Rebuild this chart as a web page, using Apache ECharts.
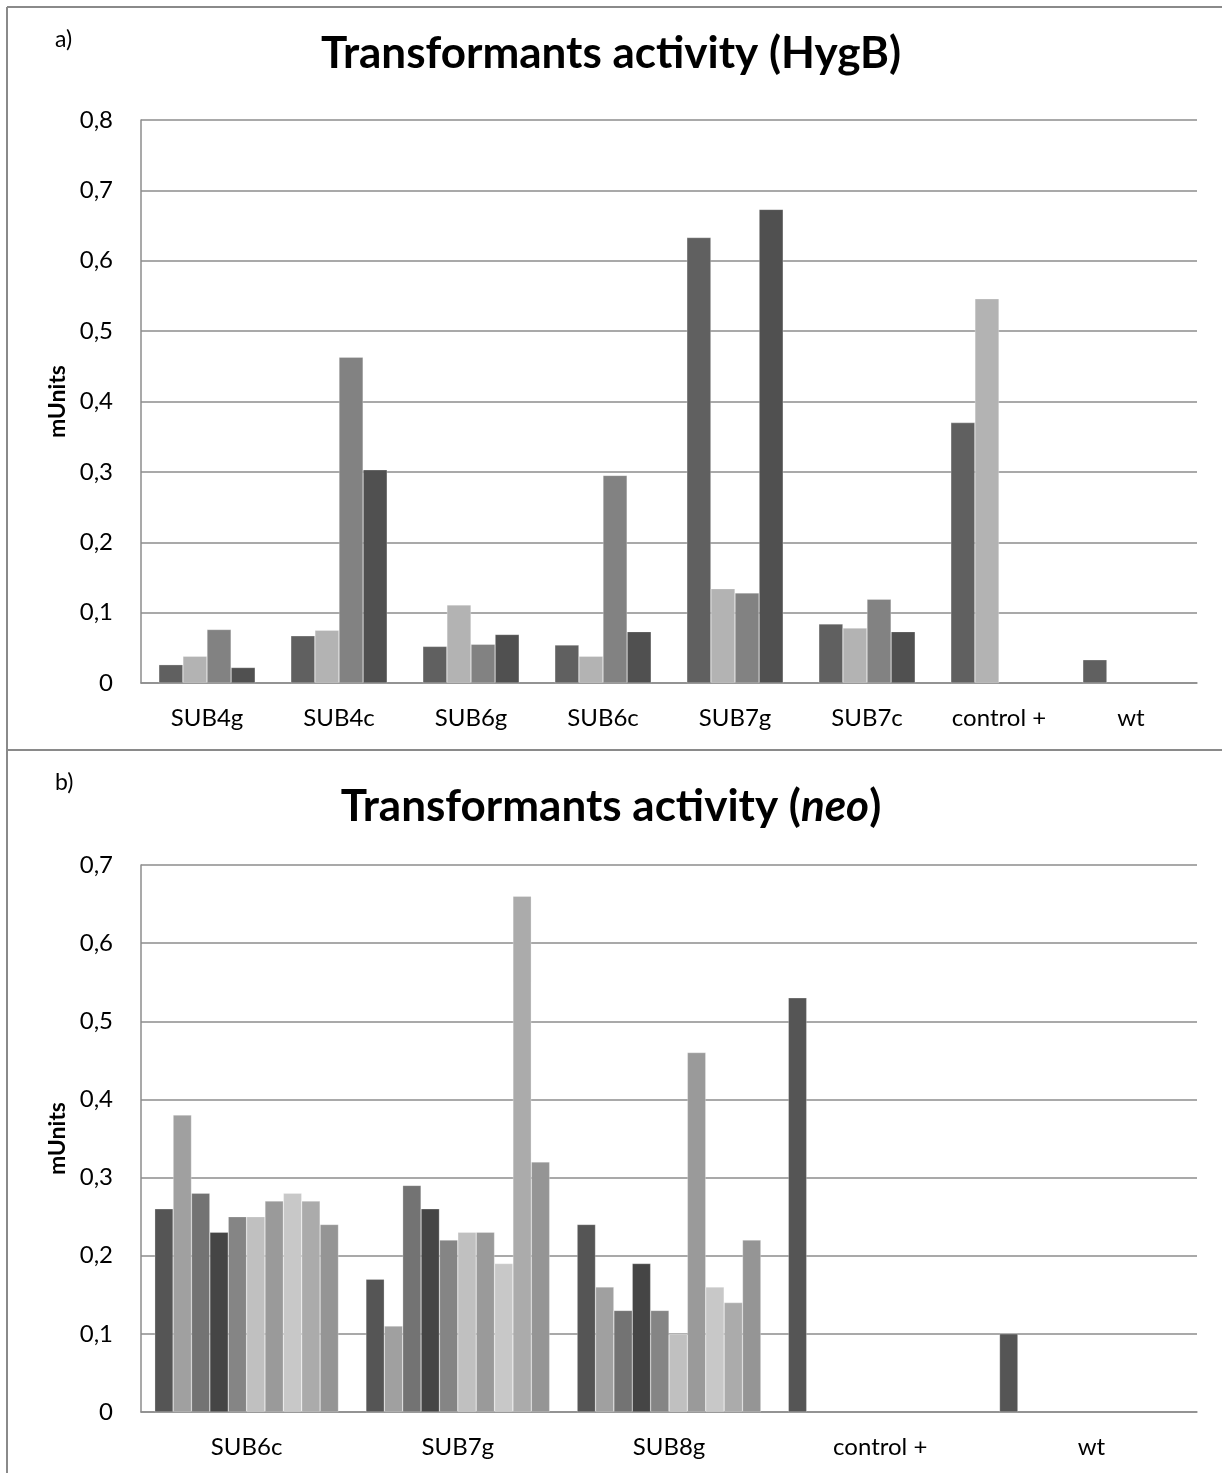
<!DOCTYPE html>
<html>
<head>
<meta charset="utf-8">
<script src="https://cdn.jsdelivr.net/npm/echarts@6/dist/echarts.min.js"></script>
<style>html,body{margin:0;padding:0;background:#fff}#c{width:1222px;height:1473px}</style>
</head>
<body>
<div id="c"></div>
<script>
// ---- data: panel a (HygB) ----
const catsA = ['SUB4g','SUB4c','SUB6g','SUB6c','SUB7g','SUB7c','control +','wt'];
const a1 = [0.026, 0.067, 0.052, 0.054, 0.633, 0.084, 0.370, 0.033];
const a2 = [0.038, 0.075, 0.111, 0.038, 0.134, 0.078, 0.546, 0];
const a3 = [0.076, 0.463, 0.055, 0.295, 0.128, 0.119, 0, 0];
const a4 = [0.022, 0.303, 0.069, 0.073, 0.673, 0.073, 0, 0];
const seriesA = [a1, a2, a3, a4];
const colorsA = ['#606060', '#b3b3b3', '#828282', '#505050'];
const ticksA = ['0','0,1','0,2','0,3','0,4','0,5','0,6','0,7','0,8'];

// ---- data: panel b (neo) ----
const catsB = ['SUB6c','SUB7g','SUB8g','control +','wt'];
const b1  = [0.26, 0.17, 0.24, 0.53, 0.10];
const b2  = [0.38, 0.11, 0.16, 0, 0];
const b3  = [0.28, 0.29, 0.13, 0, 0];
const b4  = [0.23, 0.26, 0.19, 0, 0];
const b5  = [0.25, 0.22, 0.13, 0, 0];
const b6  = [0.25, 0.23, 0.10, 0, 0];
const b7  = [0.27, 0.23, 0.46, 0, 0];
const b8  = [0.28, 0.19, 0.16, 0, 0];
const b9  = [0.27, 0.66, 0.14, 0, 0];
const b10 = [0.24, 0.32, 0.22, 0, 0];
const seriesB = [b1,b2,b3,b4,b5,b6,b7,b8,b9,b10];
const colorsB = ['#555555','#a0a0a0','#737373','#454545','#858585','#c0c0c0','#9a9a9a','#c8c8c8','#ababab','#959595'];
const ticksB = ['0','0,1','0,2','0,3','0,4','0,5','0,6','0,7'];

const FONT = 'Lato, "Open Sans", sans-serif';
const GRID_COLOR = '#8c8c8c';

function xAxis(cats, gi) {
  return {
    type: 'category', gridIndex: gi, data: cats,
    axisLine: { show: true, lineStyle: { color: GRID_COLOR, width: 1.5 } },
    axisTick: { show: false },
    axisLabel: { color: '#000', fontSize: 24, fontFamily: FONT, margin: 23 }
  };
}
function yAxis(max, ticks, gi) {
  return {
    type: 'value', gridIndex: gi, min: 0, max: max, interval: 0.1,
    name: 'mUnits', nameLocation: 'middle', nameGap: 71, nameRotate: 90,
    nameTextStyle: { color: '#000', fontSize: 23, fontWeight: 'bold', fontFamily: FONT },
    axisLine: { show: true, lineStyle: { color: GRID_COLOR, width: 1.5 } },
    axisTick: { show: false },
    splitLine: { show: true, lineStyle: { color: GRID_COLOR, width: 1.5 } },
    axisLabel: {
      color: '#000', fontSize: 24, fontFamily: FONT, margin: 28,
      formatter: function (v) { return ticks[Math.round(v * 10)]; }
    }
  };
}

function clean(d) { return d.map(function (v) { return v === 0 ? null : v; }); }

const series = [];
seriesA.forEach(function (d, i) {
  series.push({
    type: 'bar', xAxisIndex: 0, yAxisIndex: 0, data: clean(d),
    barGap: '0%', barCategoryGap: '27%',
    itemStyle: { color: colorsA[i], borderColor: 'rgba(255,255,255,0.5)', borderWidth: 0.5 },
    silent: true, animation: false
  });
});
seriesB.forEach(function (d, i) {
  series.push({
    type: 'bar', xAxisIndex: 1, yAxisIndex: 1, data: clean(d),
    barGap: '0%', barCategoryGap: '13%',
    itemStyle: { color: colorsB[i], borderColor: 'rgba(255,255,255,0.5)', borderWidth: 0.5 },
    silent: true, animation: false
  });
});

const chart = echarts.init(document.getElementById('c'), null, { renderer: 'canvas' });
chart.setOption({
  animation: false,
  backgroundColor: '#fff',
  title: [
    { text: 'Transformants activity (HygB)', left: 'center', top: 27,
      textStyle: { fontSize: 44, fontWeight: 'bold', color: '#000', fontFamily: FONT } },
    { text: '{b|Transformants activity (}{i|neo}{b|)}', left: 'center', top: 780,
      textStyle: { fontSize: 44, fontWeight: 'bold', color: '#000', fontFamily: FONT,
        rich: {
          b: { fontSize: 44, fontWeight: 'bold', color: '#000', fontFamily: FONT },
          i: { fontSize: 44, fontWeight: 'bold', fontStyle: 'italic', color: '#000', fontFamily: FONT }
        } } }
  ],
  grid: [
    { left: 141, top: 120, width: 1056, height: 563 },
    { left: 141, top: 865, width: 1056, height: 547 }
  ],
  xAxis: [xAxis(catsA, 0), xAxis(catsB, 1)],
  yAxis: [yAxis(0.8, ticksA, 0), yAxis(0.7, ticksB, 1)],
  series: series,
  graphic: [
    { type: 'line', shape: { x1: 7, y1: 7, x2: 1222, y2: 7 }, style: { stroke: '#8a8a8a', lineWidth: 2 } },
    { type: 'line', shape: { x1: 7, y1: 7, x2: 7, y2: 1473 }, style: { stroke: '#8a8a8a', lineWidth: 2 } },
    { type: 'line', shape: { x1: 7, y1: 750, x2: 1222, y2: 750 }, style: { stroke: '#8a8a8a', lineWidth: 2 } },
    { type: 'text', left: 55, top: 28, style: { text: 'a)', fontSize: 23, fontFamily: FONT, fill: '#000' } },
    { type: 'text', left: 55, top: 771, style: { text: 'b)', fontSize: 23, fontFamily: FONT, fill: '#000' } }
  ]
});
</script>
</body>
</html>
